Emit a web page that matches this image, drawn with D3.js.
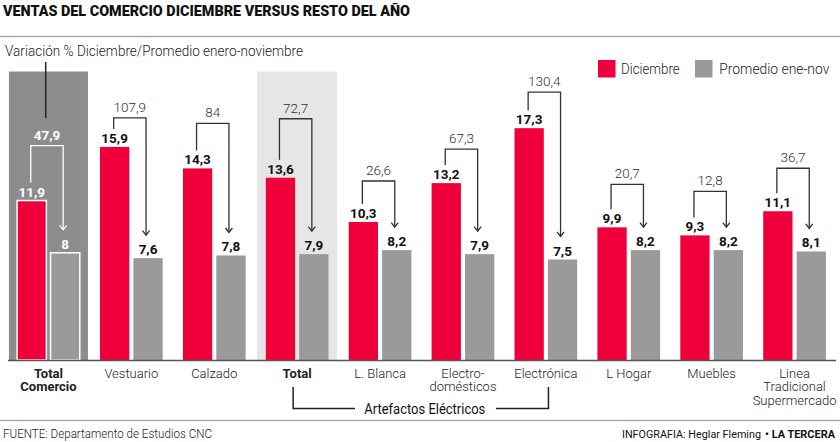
<!DOCTYPE html>
<html><head><meta charset="utf-8">
<script src="https://cdn.jsdelivr.net/npm/d3@7"></script>
<style>
body{margin:0;background:#fff;}
svg{display:block;font-family:Roboto,"Open Sans",sans-serif;}
</style></head>
<body>
<svg id="c" width="840" height="442"></svg>
<script>
const categories = ["Total Comercio","Vestuario","Calzado","Total","L. Blanca","Electro-domésticos","Electrónica","L Hogar","Muebles","Linea Tradicional Supermercado"];
const categoryLines = [["Total","Comercio"],["Vestuario"],["Calzado"],["Total"],["L. Blanca"],["Electro-","domésticos"],["Electrónica"],["L Hogar"],["Muebles"],["Linea","Tradicional","Supermercado"]];
const diciembre = [11.9,15.9,14.3,13.6,10.3,13.2,17.3,9.9,9.3,11.1];
const promedio = [8,7.6,7.8,7.9,8.2,7.9,7.5,8.2,8.2,8.1];
const variacion = [47.9,107.9,84,72.7,26.6,67.3,130.4,20.7,12.8,36.7];
const seriesNames = ["Diciembre","Promedio ene-nov"];
// layout: how far (px) each bracket rises above the red bar
const bracketRise = [55,29,45,59,41,34,36,43,44,43];

const RED = "#f0003a", GRAY = "#9a9a9a";
const fmt = v => String(v).replace(".", ",");

const svg = d3.select("#c");
const x0 = d3.scaleBand().domain(categories).range([17.1, 825.9]).paddingInner(0.2437).paddingOuter(0);
const x1 = d3.scaleBand().domain(["dic","prom"]).range([0, x0.bandwidth()]).paddingInner(0.123);
const y = d3.scaleLinear().domain([0,20]).range([360,92]);

// title
svg.append("text").attr("x",3).attr("y",15.5).attr("font-size",15.5).attr("font-weight",900)
  .attr("fill","#111").attr("textLength",407).attr("lengthAdjust","spacingAndGlyphs")
  .text("VENTAS DEL COMERCIO DICIEMBRE VERSUS RESTO DEL AÑO");
svg.append("line").attr("x1",0).attr("x2",840).attr("y1",36.5).attr("y2",36.5).attr("stroke","#aaa").attr("stroke-width",1.5);

// backgrounds
const cx = i => x0(categories[i]) + x0.bandwidth()/2;
svg.append("rect").attr("x",cx(0)-39.5).attr("y",71.5).attr("width",79).attr("height",y(0)-71.5).attr("fill","#8d8d8d");
svg.append("rect").attr("x",cx(3)-40).attr("y",71.5).attr("width",80).attr("height",y(0)-71.5).attr("fill","#e6e6e6");

// subtitle
svg.append("text").attr("x",5).attr("y",56).attr("font-size",15).attr("font-weight",300).attr("fill","#222")
  .attr("textLength",298).attr("lengthAdjust","spacingAndGlyphs")
  .text("Variación % Diciembre/Promedio enero-noviembre");

// legend
const lg = svg.append("g");
[[598,RED,621,seriesNames[0],58.6],[695,GRAY,719.3,seriesNames[1],110]].forEach(([rx,c,tx,t,w])=>{
  lg.append("rect").attr("x",rx).attr("y",60).attr("width",17.5).attr("height",17.5).attr("fill",c);
  lg.append("text").attr("x",tx).attr("y",74).attr("font-size",15).attr("font-weight",300).attr("fill","#222")
    .attr("textLength",w).attr("lengthAdjust","spacingAndGlyphs").text(t);
});

// bars
const data = categories.map((c,i)=>({c,i,dic:diciembre[i],prom:promedio[i],v:variacion[i]}));
const g = svg.append("g");
const grp = g.selectAll("g.grp").data(data).join("g").attr("transform",d=>`translate(${x0(d.c)},0)`);
grp.append("rect").attr("x",x1("dic")).attr("width",x1.bandwidth())
  .attr("y",d=>y(d.dic)).attr("height",d=>y(0)-y(d.dic)).attr("fill",RED)
  .attr("stroke",d=>d.i===0?"#fff":"none").attr("stroke-width",1.5);
grp.append("rect").attr("x",x1("prom")).attr("width",x1.bandwidth())
  .attr("y",d=>y(d.prom)).attr("height",d=>y(0)-y(d.prom)).attr("fill",GRAY)
  .attr("stroke",d=>d.i===0?"#fff":"none").attr("stroke-width",1.5);

// value labels
grp.append("text").attr("x",x1("dic")+x1.bandwidth()/2).attr("y",d=>y(d.dic)-4).attr("text-anchor","middle")
  .attr("font-size",13.5).attr("font-weight",700).attr("fill",d=>d.i===0?"#fff":"#111").text(d=>fmt(d.dic));
grp.append("text").attr("x",x1("prom")+x1.bandwidth()/2).attr("y",d=>y(d.prom)-4).attr("text-anchor","middle")
  .attr("font-size",13.5).attr("font-weight",700).attr("fill",d=>d.i===0?"#fff":"#111").text(d=>fmt(d.prom));

// brackets
grp.each(function(d){
  const s = d3.select(this);
  const col = d.i===0 ? "#fff" : "#333";
  const lx = x1("dic")+x1.bandwidth()/2 - 1;
  const rx = x1("prom")+x1.bandwidth()/2 - 2;
  const top = y(d.dic) - bracketRise[d.i];
  const lb = y(d.dic) - 18;
  const tip = y(d.prom) - 23;
  s.append("path").attr("d",`M${lx},${lb}V${top}H${rx}V${tip}`).attr("fill","none").attr("stroke",col).attr("stroke-width",1.3);
  s.append("path").attr("d",`M${rx-3.5},${tip-4.5}L${rx},${tip}L${rx+3.5},${tip-4.5}`).attr("fill","none").attr("stroke",col).attr("stroke-width",1.3);
  s.append("text").attr("x",(lx+rx)/2).attr("y",top-6).attr("text-anchor","middle").attr("font-size",13.5)
    .attr("font-weight",d.i===0?700:300).attr("fill",d.i===0?"#fff":"#333").text(fmt(d.v));
});

// connector from subtitle
svg.append("line").attr("x1",45.7).attr("x2",45.7).attr("y1",62).attr("y2",118).attr("stroke","#222").attr("stroke-width",1.5);

// x axis
const ax = svg.append("g").attr("transform",`translate(0,${y(0)})`).call(d3.axisBottom(x0).tickSize(0).tickPadding(0));
ax.select(".domain").attr("d","M8,0.5H836").attr("stroke","#555").attr("stroke-width",1.5);
ax.selectAll(".tick text").each(function(c){
  const i = categories.indexOf(c);
  const t = d3.select(this).text(null).attr("y",0).attr("dy",null)
    .attr("font-size",13).attr("font-family","Roboto,sans-serif").attr("fill","#222")
    .attr("font-weight",(i===0||i===3)?700:300);
  categoryLines[i].forEach((l,k)=>t.append("tspan").attr("x",0).attr("y",17.7+k*13.5).text(l));
});

// Artefactos bracket
const la = cx(3)-4, ra = cx(6)+2.6;
svg.append("path").attr("d",`M${la},387V408.5H355M496,408.5H${ra}V387`).attr("fill","none").attr("stroke","#222").attr("stroke-width",1.5);
svg.append("text").attr("x",(la+ra)/2+4).attr("y",414).attr("text-anchor","middle").attr("font-size",15.5).attr("fill","#111")
  .attr("textLength",121).attr("lengthAdjust","spacingAndGlyphs").text("Artefactos Eléctricos");

// footer
svg.append("line").attr("x1",0).attr("x2",840).attr("y1",420.5).attr("y2",420.5).attr("stroke","#aaa").attr("stroke-width",1.5);
svg.append("text").attr("x",3).attr("y",438).attr("font-size",13).attr("font-weight",300).attr("fill","#222")
  .attr("textLength",209).attr("lengthAdjust","spacingAndGlyphs").text("FUENTE: Departamento de Estudios CNC");
svg.append("text").attr("x",622).attr("y",438).attr("font-size",10.8).attr("fill","#111")
  .attr("textLength",139).attr("lengthAdjust","spacingAndGlyphs").text("INFOGRAFIA: Heglar Fleming");
svg.append("text").attr("x",765).attr("y",438).attr("font-size",11).attr("font-weight",700).attr("fill","#111")
  .attr("textLength",70).attr("lengthAdjust","spacingAndGlyphs").text("• LA TERCERA");
</script>
</body></html>
